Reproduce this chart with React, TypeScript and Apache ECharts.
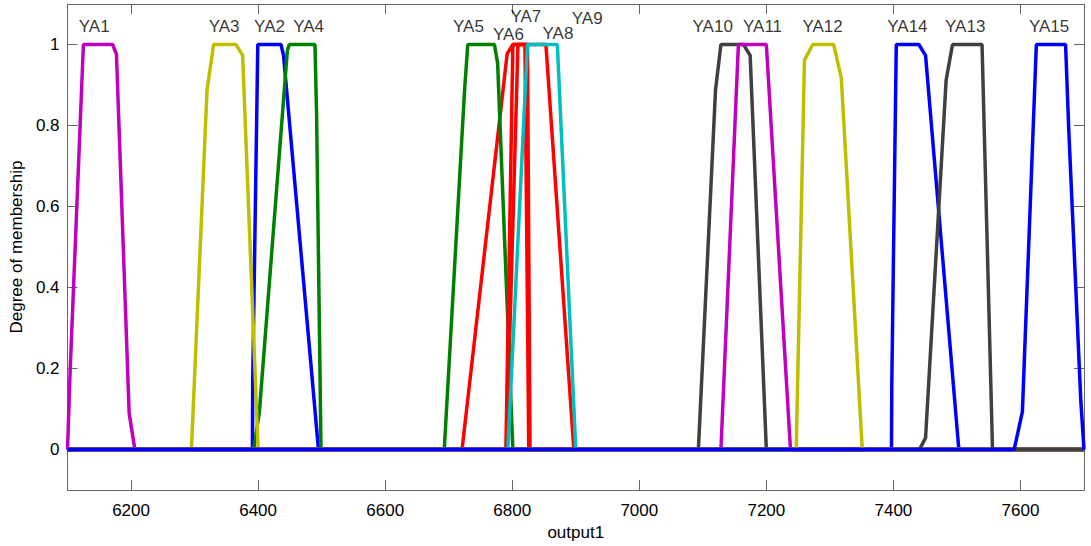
import React, { useEffect, useRef } from 'react';
import * as echarts from 'echarts';

const xTicks = [6200, 6400, 6600, 6800, 7000, 7200, 7400, 7600];
const yTicks = [0, 0.2, 0.4, 0.6, 0.8, 1];

// membership functions as [output1, degree]
const ya1 = [[6100, 0], [6104, 0.19], [6125, 1], [6171, 1], [6177, 0.976], [6197, 0.09], [6206, 0], [7700, 0]];
const ya2 = [[6100, 0], [6391, 0], [6391.5, 0.17], [6399.5, 1], [6436, 1], [6440, 0.973], [6495, 0], [7700, 0]];
const ya3 = [[6100, 0], [6295, 0], [6319.6, 0.888], [6330, 1], [6365, 1], [6375.6, 0.973], [6400, 0], [7700, 0]];
const ya4 = [[6100, 0], [6393, 0], [6402, 0.093], [6446, 0.985], [6449, 1], [6489.5, 1], [6492, 0.83], [6499, 0], [7700, 0]];
const ya5 = [[6100, 0], [6693, 0], [6725, 0.888], [6730, 1], [6772, 1], [6777, 0.954], [6801, 0], [7700, 0]];
const ya6 = [[6100, 0], [6721, 0], [6792, 0.977], [6801, 1], [6824, 1], [6828, 0], [7700, 0]];
const ya7 = [[6100, 0], [6790, 0], [6801, 1], [6820, 1], [6826, 0], [7700, 0]];
const ya8 = [[6100, 0], [6791, 0], [6809, 1], [6853, 1], [6897, 0], [7700, 0]];
const ya9 = [[6100, 0], [6793, 0], [6824, 1], [6871, 1], [6900, 0], [7700, 0]];
const ya10 = [[6100, 0], [7093, 0], [7120, 0.888], [7128.5, 1], [7164, 1], [7174.5, 0.973], [7200, 0], [7700, 0]];
const ya11 = [[6100, 0], [7128.5, 0], [7156, 1], [7200, 1], [7238, 0], [7700, 0]];
const ya12 = [[6100, 0], [7247, 0], [7260, 0.961], [7273, 1], [7306, 1], [7318, 0.917], [7351, 0], [7700, 0]];
const ya13 = [[6100, 0], [7441, 0], [7450.6, 0.029], [7483, 0.912], [7493, 1], [7539.5, 1], [7556, 0], [7700, 0]];
const ya14 = [[6100, 0], [7397, 0], [7397.5, 0.166], [7404.5, 1], [7440, 1], [7450.6, 0.973], [7503, 0], [7700, 0]];
const ya15 = [[6100, 0], [7590, 0], [7603, 0.093], [7625, 1], [7671, 1], [7676, 0.79], [7695, 0.12], [7700, 0]];

const mfNames = ['YA1', 'YA2', 'YA3', 'YA4', 'YA5', 'YA6', 'YA7', 'YA8', 'YA9', 'YA10', 'YA11', 'YA12', 'YA13', 'YA14', 'YA15'];
const mfData = [ya1, ya2, ya3, ya4, ya5, ya6, ya7, ya8, ya9, ya10, ya11, ya12, ya13, ya14, ya15];
const mfColors = ['#bf00bf', '#0000ff', '#bfbf00', '#008000', '#008000', '#ff0000', '#ff0000', '#ff0000', '#00bfbf', '#404040', '#bf00bf', '#bfbf00', '#404040', '#0000ff', '#0000ff'];
// drawing order (later on top)
const drawOrder = ['YA2', 'YA4', 'YA6', 'YA8', 'YA1', 'YA3', 'YA10', 'YA14', 'YA5', 'YA7', 'YA9', 'YA11', 'YA12', 'YA13', 'YA15'];

// label anchor positions [output1, degree]
const labelX = [6142, 6418, 6346.5, 6479.5, 6731, 6794, 6821.5, 6872, 6918, 7115.5, 7194, 7288.5, 7513, 7422, 7645];
const labelY = [1.045, 1.045, 1.045, 1.045, 1.045, 1.025, 1.069, 1.028, 1.064, 1.045, 1.045, 1.045, 1.045, 1.045, 1.045];

const FONT = "'Liberation Sans', Arial, sans-serif";
const AXIS_COLOR = '#666666';

export default function App() {
  const ref = useRef<HTMLDivElement>(null);
  useEffect(() => {
    if (!ref.current) return;
    const chart = echarts.init(ref.current, undefined, { renderer: 'svg' });
    const lineSeries = drawOrder.map((n) => {
      const i = mfNames.indexOf(n);
      return {
        type: 'line',
        name: n,
        data: mfData[i],
        showSymbol: false,
        symbol: 'none',
        silent: true,
        lineStyle: { width: 3.5, color: mfColors[i] },
        itemStyle: { color: mfColors[i] },
        xAxisIndex: 0,
        yAxisIndex: 0,
      };
    });
    const labelSeries = {
      type: 'scatter',
      silent: true,
      symbolSize: 1,
      itemStyle: { color: 'rgba(0,0,0,0)' },
      data: mfNames.map((n, i) => ({ name: n, value: [labelX[i], labelY[i]] })),
      label: {
        show: true,
        position: 'inside',
        formatter: '{b}',
        fontSize: 17,
        color: '#000000',
        textBorderWidth: 0,
        fontFamily: FONT,
      },
      xAxisIndex: 0,
      yAxisIndex: 0,
      z: 10,
    };
    const commonLine = { show: true, onZero: false, lineStyle: { color: AXIS_COLOR, width: 1 } };
    chart.setOption({
      animation: false,
      backgroundColor: '#ffffff',
      textStyle: { fontFamily: FONT },
      grid: { left: 65, right: 7, top: 4, bottom: 50, containLabel: false },
      xAxis: [
        {
          type: 'value',
          position: 'bottom',
          min: 6100,
          max: 7700,
          axisLine: commonLine,
          axisTick: { show: true, inside: true, length: 10, customValues: xTicks, lineStyle: { color: AXIS_COLOR } },
          axisLabel: {
            show: true,
            customValues: xTicks,
            fontSize: 17,
            color: '#000',
            margin: 12,
            fontFamily: FONT,
            formatter: (v: number) => String(v),
          },
          splitLine: { show: false },
          name: 'output1',
          nameLocation: 'middle',
          nameGap: 32,
          nameTextStyle: { fontSize: 17, color: '#000', fontFamily: FONT },
        },
        {
          type: 'value',
          position: 'top',
          min: 6100,
          max: 7700,
          axisLine: commonLine,
          axisTick: { show: true, inside: true, length: 10, customValues: xTicks, lineStyle: { color: AXIS_COLOR } },
          axisLabel: { show: false },
          splitLine: { show: false },
        },
      ],
      yAxis: [
        {
          type: 'value',
          position: 'left',
          min: -0.1,
          max: 1.1,
          axisLine: commonLine,
          axisTick: { show: true, inside: true, length: 10, customValues: yTicks, lineStyle: { color: AXIS_COLOR } },
          axisLabel: {
            show: true,
            customValues: yTicks,
            fontSize: 17,
            color: '#000',
            margin: 8,
            fontFamily: FONT,
            formatter: (v: number) => String(Math.round(v * 10) / 10),
          },
          splitLine: { show: false },
          name: 'Degree of membership',
          nameLocation: 'middle',
          nameRotate: 90,
          nameGap: 40,
          nameTextStyle: { fontSize: 17, color: '#000', fontFamily: FONT },
        },
        {
          type: 'value',
          position: 'right',
          min: -0.1,
          max: 1.1,
          axisLine: commonLine,
          axisTick: { show: true, inside: true, length: 10, customValues: yTicks, lineStyle: { color: AXIS_COLOR } },
          axisLabel: { show: false },
          splitLine: { show: false },
        },
      ],
      series: [...lineSeries, labelSeries],
    });
    return () => chart.dispose();
  }, []);
  return <div ref={ref} style={{ position: 'absolute', left: 0, top: 0, width: 1091, height: 546 }} />;
}
